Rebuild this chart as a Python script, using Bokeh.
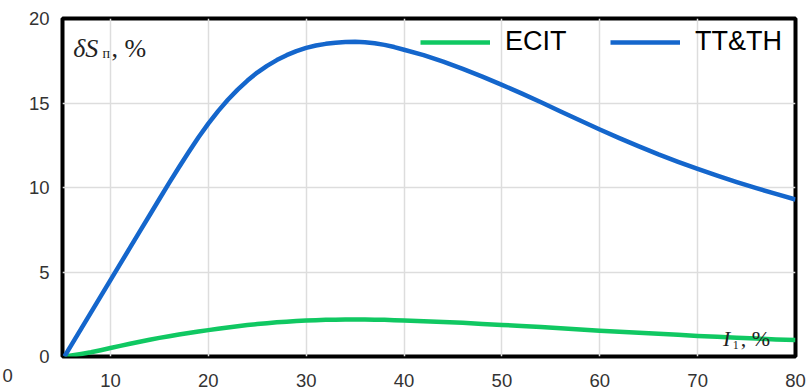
from bokeh.plotting import figure
from bokeh.models import Range1d, Label, Legend, LegendItem, FixedTicker
from bokeh.embed import file_html
from bokeh.resources import INLINE

# ---- data ----
x_vals = [5.3, 6, 7, 8, 9, 10, 11, 12, 13, 14, 15, 16, 17, 18, 19, 20, 21, 22, 23, 24,
          25, 26, 27, 28, 29, 30, 31, 32, 33, 34, 35, 36, 37, 38, 39, 40,
          42, 44, 46, 48, 50, 52, 54, 56, 58, 60, 62, 64, 66, 68, 70, 72, 74, 76, 78, 80]
tt_th = [0.0, 0.67, 1.63, 2.6, 3.56, 4.52, 5.48, 6.44, 7.4, 8.36, 9.32, 10.27, 11.2,
         12.1, 12.97, 13.78, 14.52, 15.19, 15.79, 16.33, 16.8, 17.2, 17.54, 17.83, 18.07,
         18.26, 18.4, 18.5, 18.57, 18.61, 18.62, 18.59, 18.53, 18.44, 18.31, 18.15,
         17.83, 17.45, 17.02, 16.56, 16.07, 15.57, 15.04, 14.5, 13.96, 13.43, 12.92,
         12.43, 11.96, 11.52, 11.1, 10.7, 10.32, 9.96, 9.62, 9.29]
ecit = [0.0, 0.06, 0.15, 0.25, 0.37, 0.5, 0.63, 0.75, 0.87, 0.99, 1.1, 1.2, 1.3, 1.39,
        1.48, 1.56, 1.64, 1.72, 1.79, 1.86, 1.92, 1.97, 2.02, 2.06, 2.1, 2.13, 2.15,
        2.17, 2.18, 2.19, 2.19, 2.19, 2.18, 2.17, 2.15, 2.13,
        2.09, 2.04, 1.99, 1.93, 1.87, 1.81, 1.74, 1.67, 1.6, 1.53, 1.47, 1.4, 1.34,
        1.28, 1.22, 1.17, 1.11, 1.06, 1.01, 0.97]
x_ticks = [10, 20, 30, 40, 50, 60, 70, 80]
y_ticks = [0, 5, 10, 15, 20]
series_names = ["ECIT", "TT&TH"]

BLUE = "#1466cc"
GREEN = "#10c862"

p = figure(width=807, height=389, output_backend="svg", toolbar_location=None,
           x_range=Range1d(5.1, 80), y_range=Range1d(0, 20),
           min_border_left=62, min_border_right=12, min_border_top=18,
           min_border_bottom=31)

p.outline_line_color = "black"
p.outline_line_width = 4

for ax in (p.xaxis[0], p.yaxis[0]):
    ax.axis_line_color = None
    ax.major_tick_line_color = None
    ax.minor_tick_line_color = None
    ax.major_label_text_font = "Liberation Sans"
    ax.major_label_text_color = "#333333"
    ax.major_label_text_font_size = "18.5px"

p.xaxis.ticker = FixedTicker(ticks=x_ticks)
p.yaxis.ticker = FixedTicker(ticks=y_ticks)
p.xaxis.major_label_standoff = 11
p.yaxis.major_label_standoff = 7

p.grid.grid_line_color = "#dddddd"
p.grid.grid_line_width = 1.5

r_green = p.line(x_vals, ecit, line_color=GREEN, line_width=4.5, line_join="round")
r_blue = p.line(x_vals, tt_th, line_color=BLUE, line_width=4.5, line_join="round")

def make_legend(name, renderer, loc):
    lg = Legend(items=[LegendItem(label=name, renderers=[renderer])], location=loc,
                orientation="horizontal", glyph_width=70, glyph_height=20,
                label_standoff=15, padding=0, margin=0, border_line_alpha=0,
                background_fill_alpha=0, label_text_font="Liberation Sans",
                label_text_font_size="27px", label_text_color="black")
    p.add_layout(lg, "center")

make_legend(series_names[0], r_green, (358, 299))
make_legend(series_names[1], r_blue, (548, 299))

serif = "Liberation Serif"
# y-axis title: δS_п, %
p.add_layout(Label(x=6.2, y=18.25, text="δS", text_font=serif, text_font_style="italic",
                   text_font_size="26px", text_color="#222222", text_baseline="alphabetic"))
p.add_layout(Label(x=9.2, y=17.9, text="п", text_font=serif,
                   text_font_size="14px", text_color="#222222", text_baseline="alphabetic"))
p.add_layout(Label(x=10.1, y=18.25, text=", %", text_font=serif,
                   text_font_size="26px", text_color="#222222", text_baseline="alphabetic"))
# x-axis title: I_1, %
p.add_layout(Label(x=72.6, y=1.08, text="I", text_font=serif, text_font_style="italic",
                   text_font_size="22px", text_color="#222222", text_baseline="alphabetic"))
p.add_layout(Label(x=73.6, y=0.68, text="1", text_font=serif,
                   text_font_size="12px", text_color="#222222", text_baseline="alphabetic"))
p.add_layout(Label(x=74.4, y=1.08, text=", %", text_font=serif,
                   text_font_size="22px", text_color="#222222", text_baseline="alphabetic"))
# stray tick label at far left (placed in the side panel so it is not clipped)
p.add_layout(Label(x=-0.5, y=-0.75, text="0", text_font="Liberation Sans",
                   text_font_size="18.5px", text_color="#333333", text_align="center",
                   text_baseline="top"), "left")

open("out.html", "w").write(file_html(p, INLINE))
